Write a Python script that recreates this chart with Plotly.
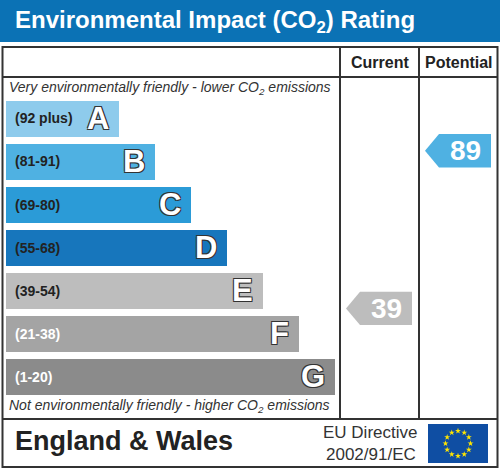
import numpy as np
import plotly.graph_objects as go

# EPC environmental impact bands
bands = ["A", "B", "C", "D", "E", "F", "G"]
ranges = ["(92 plus)", "(81-91)", "(69-80)", "(55-68)", "(39-54)", "(21-38)", "(1-20)"]
band_floor = [92, 81, 69, 55, 39, 21, 1]
band_colors = ["#8ecbec", "#4fb1e2", "#2b9bd7", "#1776bc", "#bdbdbd", "#a4a4a4", "#8b8b8b"]
label_colors = ["#222222", "#222222", "#222222", "#222222", "#222222", "#ffffff", "#ffffff"]
current = 39
potential = 89

W, H = 500, 469
FONT = "Liberation Sans, Arial, sans-serif"
LINE = "#333333"


def band_of(score):
    for i, lo in enumerate(band_floor):
        if score >= lo:
            return i
    return len(bands) - 1


fig = go.Figure()

# rating bars, one band per row
idx = list(range(len(bands)))
fig.add_trace(go.Bar(
    orientation="h", y=idx, x=[113 + 36 * i for i in idx], base=6,
    width=0.836, marker=dict(color=band_colors, line=dict(width=0)),
    xaxis="x", yaxis="y", hoverinfo="skip", showlegend=False,
))

annotations = []
for i, (b, r) in enumerate(zip(bands, ranges)):
    end = 6 + 113 + 36 * i
    annotations.append(dict(
        x=13, y=i, xref="x", yref="y", text="<b>%s</b>" % r, showarrow=False,
        xanchor="left", yanchor="middle",
        font=dict(family=FONT, size=14, color=label_colors[i]),
    ))
    annotations.append(dict(
        x=end - 8, y=i, xref="x", yref="y", text="<b>%s</b>" % b, showarrow=False,
        xanchor="right", yanchor="middle",
        font=dict(family=FONT, size=31, color="white",
                  shadow="-1px -1px 0 #333, 1px -1px 0 #333, -1px 1px 0 #333, 1px 1px 0 #333"),
    ))

# score arrows for current / potential columns
half = 5.3
for score, col_left in [(current, 340), (potential, 419)]:
    tip, rl, right = col_left + 6, col_left + 20, col_left + 72
    xs = [tip, rl, right, right, rl, tip]
    ys = [score, score + half, score + half, score - half, score - half, score]
    fig.add_trace(go.Scatter(
        x=xs, y=ys, fill="toself", mode="lines", line=dict(width=0),
        fillcolor=band_colors[band_of(score)], xaxis="x", yaxis="y2",
        hoverinfo="skip", showlegend=False,
    ))
    annotations.append(dict(
        x=(rl + right) / 2, y=score, xref="x", yref="y2", text="<b>%d</b>" % score,
        showarrow=False, xanchor="center", yanchor="middle",
        font=dict(family=FONT, size=28, color="white"),
    ))

# EU flag stars
ang = np.linspace(0, 2 * np.pi, 12, endpoint=False)
fig.add_trace(go.Scatter(
    x=458 + 12.5 * np.cos(ang), y=443.5 + 12.5 * np.sin(ang), mode="markers",
    marker=dict(symbol="star", size=4.5, color="#ffe500", line=dict(width=0)),
    xaxis="x", yaxis="y3", hoverinfo="skip", showlegend=False,
))

shapes = [
    dict(type="rect", x0=0, x1=500, y0=0, y1=42, fillcolor="#0b72b5", line=dict(width=0)),
    dict(type="rect", x0=2.5, x1=497.5, y0=47, y1=467, line=dict(color=LINE, width=2)),
    dict(type="line", x0=2.5, x1=497.5, y0=77, y1=77, line=dict(color=LINE, width=2)),
    dict(type="line", x0=2.5, x1=497.5, y0=419, y1=419, line=dict(color=LINE, width=2)),
    dict(type="line", x0=340, x1=340, y0=47, y1=419, line=dict(color=LINE, width=2)),
    dict(type="line", x0=419, x1=419, y0=47, y1=419, line=dict(color=LINE, width=2)),
    dict(type="rect", x0=428, x1=488, y0=424, y1=463, fillcolor="#0f4ea3", line=dict(width=0)),
]
for s in shapes:
    s.update(xref="x", yref="y3", layer="below")

texts = [
    (13, 21, "<b>Environmental Impact (CO<sub>2</sub>) Rating</b>", 24, "white", "left", "normal"),
    (380, 62, "<b>Current</b>", 16, "#222222", "center", "normal"),
    (459, 62, "<b>Potential</b>", 16, "#222222", "center", "normal"),
    (7, 88, "Very environmentally friendly - lower CO<sub>2</sub> emissions", 14, "#333333", "left", "italic"),
    (7, 406, "Not environmentally friendly - higher CO<sub>2</sub> emissions", 14, "#333333", "left", "italic"),
    (13, 441, "<b>England &amp; Wales</b>", 27, "#222222", "left", "normal"),
    (370, 432, "EU Directive", 17, "#333333", "center", "normal"),
    (371, 454, "2002/91/EC", 17, "#333333", "center", "normal"),
]
for x, y, t, size, color, anchor, style in texts:
    annotations.append(dict(
        x=x, y=y, xref="x", yref="y3", text=t, showarrow=False,
        xanchor=anchor, yanchor="middle",
        font=dict(family=FONT, size=size, color=color, style=style),
    ))

# score axis: 3.154 px per point, score 39 sits at pixel 308.4
px_per = 3.154
s_top = 39 + 308.4 / px_per
s_bot = 39 - (H - 308.4) / px_per

fig.update_layout(
    width=W, height=H, margin=dict(l=0, r=0, t=0, b=0),
    paper_bgcolor="white", plot_bgcolor="rgba(0,0,0,0)",
    xaxis=dict(range=[0, W], visible=False, fixedrange=True),
    yaxis=dict(range=[6.5, -0.5], domain=[1 - 398.3 / H, 1 - 96.9 / H],
               visible=False, fixedrange=True),
    yaxis2=dict(range=[s_bot, s_top], domain=[0, 1], anchor="x",
                visible=False, fixedrange=True),
    yaxis3=dict(range=[H, 0], domain=[0, 1], anchor="x",
                visible=False, fixedrange=True),
    shapes=shapes, annotations=annotations,
    bargap=0,
)

fig.write_html("out.html", config={"displayModeBar": False},
               post_script="document.body.style.margin='0';document.body.style.overflow='hidden';")
